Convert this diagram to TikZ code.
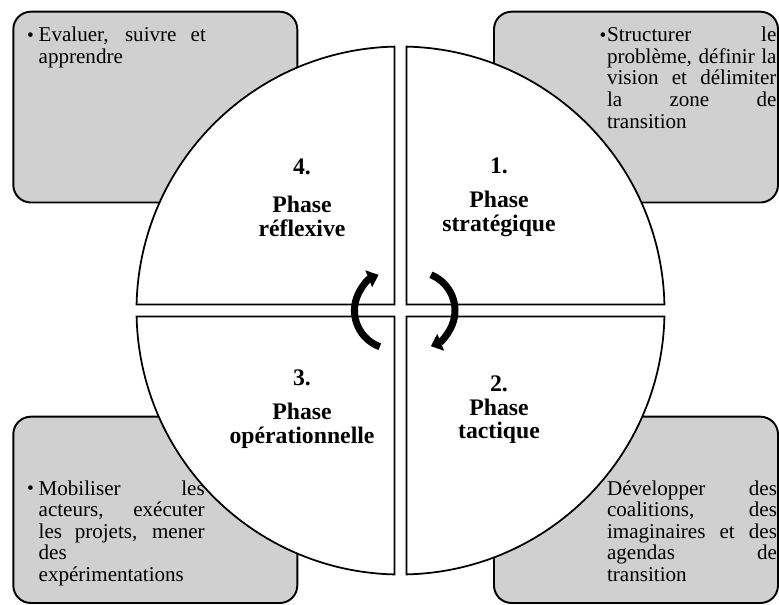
\documentclass[tikz,border=0pt]{standalone}
\usepackage{fontspec}
\setmainfont{Liberation Serif}
\usetikzlibrary{arrows.meta}
\definecolor{boxgray}{RGB}{208,208,208}
\tolerance=9999
\hbadness=10000
\newcommand{\phasebullet}[1]{\llap{\makebox[#1][l]{\raisebox{0.2pt}{\fontsize{11}{11}\selectfont •}}}}

\begin{document}
\begin{tikzpicture}[scale=0.2,
		phasebox/.style={draw=black, line width=1.1pt, fill=boxgray, rounded corners=10pt},
		sector/.style={draw=black, line width=1pt, fill=white},
		boxtext/.style={anchor=base west, align=justify, font=\fontsize{12}{12.3}\selectfont},
		phasename/.style={anchor=base, text width=40mm, align=center, font=\fontsize{13.5}{13.4}\selectfont\bfseries},
		turnarrow/.style={line width=4pt, -{Triangle[length=6pt,width=10pt]}}]
		\tikzstyle{every node}+=[inner sep=0pt]
		\useasboundingbox (0,0) rectangle (77.9,-60.4);
		% corner boxes
		\draw [phasebox] (1.33,-1.17) rectangle (29.73,-20.25);
		\draw [phasebox] (49.4,-1.17) rectangle (77.8,-20.25);
		\draw [phasebox] (1.33,-41.67) rectangle (29.73,-60.3);
		\draw [phasebox] (49.4,-41.67) rectangle (77.8,-60.3);
		\node [boxtext, text width=95.2pt] (evaluer) at (3.83,-4.17) {\phasebullet{6.6pt}Evaluer, suivre et\linebreak apprendre};
		\node [boxtext, text width=96.4pt] (structurer) at (60.67,-4.17) {\phasebullet{4.2pt}Structurer le\linebreak problème, définir la\linebreak vision et délimiter\linebreak la zone de\linebreak transition};
		\node [boxtext, text width=94.5pt] (mobiliser) at (3.83,-49.5) {\phasebullet{6.6pt}Mobiliser les\linebreak acteurs, exécuter\linebreak les projets, mener\linebreak des\linebreak expérimentations};
		\node [boxtext, text width=96.7pt] (developper) at (60.67,-49.5) {Développer des\linebreak coalitions, des\linebreak imaginaires et des\linebreak agendas de\linebreak transition};
		% circle in four quarters
		\draw [sector] (40.65,-30.45) -- (40.65,-4.66) arc (88.7:1.3:26.4) -- cycle;
		\draw [sector] (40.65,-31.65) -- (40.65,-57.44) arc (271.3:358.7:26.4) -- cycle;
		\draw [sector] (39.45,-31.65) -- (13.66,-31.65) arc (181.3:268.7:26.4) -- cycle;
		\draw [sector] (39.45,-30.45) -- (39.45,-4.66) arc (91.3:178.7:26.4) -- cycle;
		\node [phasename] (strategique) at (49.9,-17.3) {1.\\[6.4pt]Phase\\stratégique};
		\node [phasename] (tactique) at (49.9,-39.17) {2.\\Phase\\tactique};
		\node [phasename] (operationnelle) at (30.2,-38.5) {3.\\[6.4pt]Phase\\opérationnelle};
		\node [phasename] (reflexive) at (30.2,-17.4) {4.\\[8.7pt]Phase\\réflexive};
		\draw [turnarrow] (37.98,-34.67) arc (250:112:3.85);
		\draw [turnarrow] (43.09,-27.48) arc (68:-68:3.85);
\end{tikzpicture}
\end{document}
